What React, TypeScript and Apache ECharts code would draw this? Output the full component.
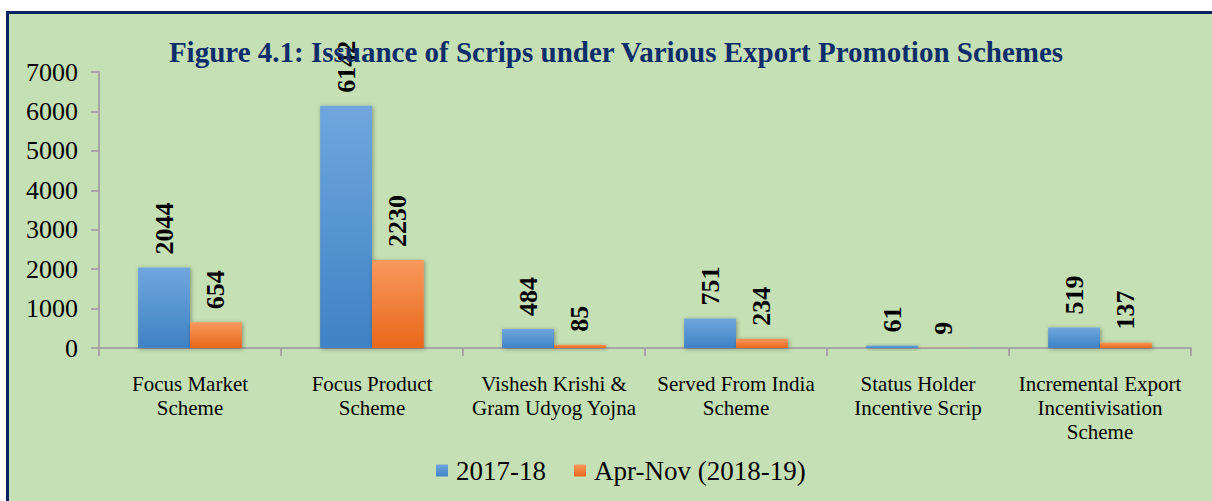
import React, { useEffect, useRef } from "react";
import * as echarts from "echarts";

const titleText = "Figure 4.1: Issuance of Scrips under Various Export Promotion Schemes";
const categories = [
  "Focus Market\nScheme",
  "Focus Product\nScheme",
  "Vishesh Krishi &\nGram Udyog Yojna",
  "Served From India\nScheme",
  "Status Holder\nIncentive Scrip",
  "Incremental Export\nIncentivisation\nScheme",
];
const seriesNames = ["2017-18", "Apr-Nov (2018-19)"];
const values2017 = [2044, 6142, 484, 751, 61, 519];
const valuesAprNov = [654, 2230, 85, 234, 9, 137];
const yTicks = { min: 0, max: 7000, interval: 1000 };

const serif = "'Liberation Serif', 'DejaVu Serif', serif";

export default function App() {
  const ref = useRef<HTMLDivElement>(null);
  useEffect(() => {
    if (!ref.current) return;
    const chart = echarts.init(ref.current, undefined, { renderer: "svg" });
    const blue = new echarts.graphic.LinearGradient(0, 0, 0, 1, [
      { offset: 0, color: "#6FA7DD" },
      { offset: 1, color: "#3F82C5" },
    ]);
    const orange = new echarts.graphic.LinearGradient(0, 0, 0, 1, [
      { offset: 0, color: "#F7995C" },
      { offset: 1, color: "#E9671B" },
    ]);
    const labelCfg = {
      show: true,
      position: "top" as const,
      rotate: 90,
      align: "left" as const,
      verticalAlign: "middle" as const,
      distance: 13,
      fontFamily: serif,
      fontWeight: "bold" as const,
      fontSize: 26,
      color: "#000",
    };
    chart.setOption({
      animation: false,
      backgroundColor: "#ffffff",
      graphic: [
        {
          type: "rect",
          z: -10,
          silent: true,
          shape: { x: 7.5, y: 12.5, width: 1212, height: 500 },
          style: { fill: "#C5E0B4", stroke: "#0B2461", lineWidth: 3 },
        },
      ],
      title: {
        text: titleText,
        left: 611,
        textAlign: "center",
        top: 32,
        textStyle: {
          fontFamily: serif,
          fontWeight: "bold",
          fontSize: 29,
          color: "#0E2D6B",
        },
      },
      legend: {
        data: seriesNames,
        left: 431,
        top: 452,
        itemWidth: 12,
        itemHeight: 12,
        itemGap: 28,
        icon: "rect",
        textStyle: { fontFamily: serif, fontSize: 27, color: "#000", padding: [0, 0, 0, 3] },
      },
      grid: { left: 99, right: 21, top: 72, bottom: 153, containLabel: false },
      xAxis: {
        type: "category",
        data: categories,
        axisLine: { show: true, lineStyle: { color: "#A6A6A6", width: 2 } },
        axisTick: { show: true, alignWithLabel: false, length: 8, lineStyle: { color: "#A6A6A6", width: 2 } },
        axisLabel: {
          interval: 0,
          margin: 24,
          fontFamily: serif,
          fontSize: 21,
          lineHeight: 24,
          color: "#000",
        },
      },
      yAxis: {
        type: "value",
        min: yTicks.min,
        max: yTicks.max,
        interval: yTicks.interval,
        splitLine: { show: false },
        axisLine: { show: true, lineStyle: { color: "#A6A6A6", width: 2 } },
        axisTick: { show: true, length: 8, lineStyle: { color: "#A6A6A6", width: 2 } },
        axisLabel: {
          margin: 21,
          fontFamily: serif,
          fontSize: 26,
          color: "#000",
          formatter: (v: number) => String(v),
        },
      },
      series: [
        {
          name: seriesNames[0],
          type: "bar",
          data: values2017,
          barGap: "0%",
          barCategoryGap: "43%",
          itemStyle: {
            color: blue,
            shadowColor: "rgba(0,0,0,0.35)",
            shadowBlur: 4,
            shadowOffsetX: 1,
            shadowOffsetY: 1,
          },
          label: labelCfg,
        },
        {
          name: seriesNames[1],
          type: "bar",
          data: valuesAprNov,
          itemStyle: {
            color: orange,
            shadowColor: "rgba(0,0,0,0.35)",
            shadowBlur: 4,
            shadowOffsetX: 1,
            shadowOffsetY: 1,
          },
          label: labelCfg,
        },
      ],
    });
    return () => chart.dispose();
  }, []);
  return (
    <div
      ref={ref}
      style={{ position: "absolute", left: 0, top: 0, width: 1212, height: 501 }}
    />
  );
}
